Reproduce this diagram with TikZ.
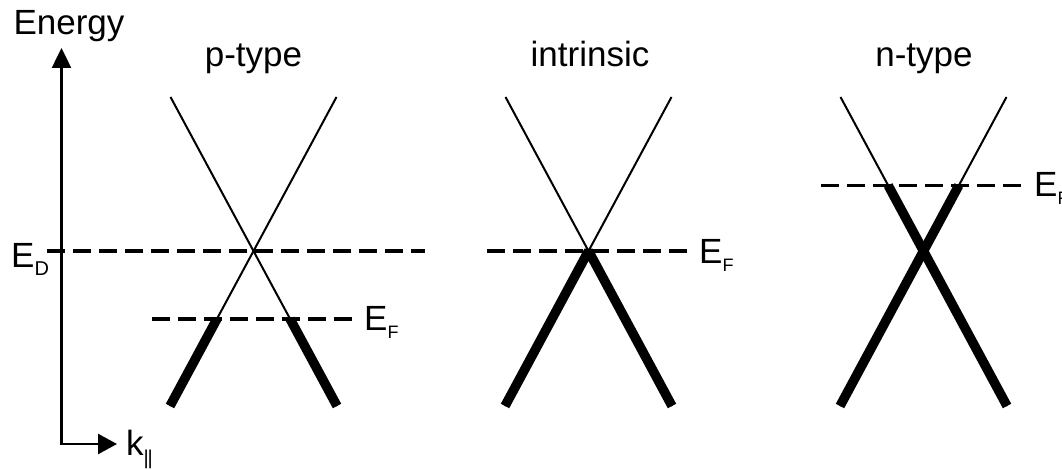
\documentclass[tikz,border=0pt]{standalone}
\usepackage{fontspec}
\setmainfont{Liberation Sans}
\usetikzlibrary{arrows.meta}
\newcommand{\bigtext}{\fontsize{35}{40}\selectfont}
\newcommand{\lowsub}[2][18]{\raisebox{-8pt}{\fontsize{#1}{#1}\selectfont #2}}
\begin{document}
\begin{tikzpicture}[x=1pt,y=-1pt,
  lbl/.style={inner sep=0pt, font=\bigtext},
  thinband/.style={line width=2pt},
  thickband/.style={line width=9.5pt, line join=bevel},
  level/.style={line width=3.2pt, dash pattern=on 18pt off 8pt},
  axisline/.style={line width=2.5pt, line join=miter,
     {Triangle[length=20pt,width=19pt]}-{Triangle[length=19pt,width=20pt]}}]
\useasboundingbox (0,0) rectangle (1062,470);
% axes
\coordinate (vtip) at (61.5,48);
\coordinate (corner) at (61.5,444);
\coordinate (htip) at (117,444);
\draw[axisline] (vtip) -- (corner) -- (htip);
\node[lbl, anchor=base] (energy) at (69,35) {Energy};
\node[lbl, anchor=base west] (kpar) at (126,455) {k\raisebox{-9pt}{\fontsize{20}{20}\selectfont |\kern-1.2pt|}};
% Dirac level
\coordinate (edL) at (47,251);
\coordinate (edR) at (425,251);
\draw[level] (edL) -- (edR);
\node[lbl, anchor=base west] (ed) at (11,268) {E\lowsub[20]{D}};
% titles
\node[lbl, anchor=base] (ptitle) at (253.5,67) {p-type};
\node[lbl, anchor=base] (ititle) at (590,67) {intrinsic};
\node[lbl, anchor=base] (ntitle) at (924,67) {n-type};
% ---------- p-type ----------
\coordinate (pTL) at (170.5,97);
\coordinate (pTR) at (336.5,97);
\coordinate (pBL) at (170,406);
\coordinate (pBR) at (337,406);
\coordinate (pFL) at (216.9,319);
\coordinate (pFR) at (290.1,319);
\draw[thinband] (pTL) -- (pBR);
\draw[thinband] (pTR) -- (pBL);
\draw[thickband] (pFL) -- (pBL);
\draw[thickband] (pFR) -- (pBR);
\coordinate (pEL) at (152,319);
\coordinate (pER) at (353,319);
\draw[level] (pEL) -- (pER);
\node[lbl, anchor=base west] (pef) at (364,330) {E\lowsub{F}};
% ---------- intrinsic ----------
\coordinate (iTL) at (505.5,97);
\coordinate (iTR) at (671.5,97);
\coordinate (iBL) at (505,406);
\coordinate (iBR) at (672,406);
\coordinate (iC) at (588.5,251);
\draw[thinband] (iTL) -- (iBR);
\draw[thinband] (iTR) -- (iBL);
\draw[thickband] (iBL) -- (iC) -- (iBR);
\coordinate (iEL) at (487,251);
\coordinate (iER) at (692,251);
\draw[level] (iEL) -- (iER);
\node[lbl, anchor=base west] (ief) at (699,263) {E\lowsub{F}};
% ---------- n-type ----------
\coordinate (nTL) at (840.5,97);
\coordinate (nTR) at (1006.5,97);
\coordinate (nBL) at (840,406);
\coordinate (nBR) at (1007,406);
\coordinate (nFL) at (888.2,185.5);
\coordinate (nFR) at (958.8,185.5);
\draw[thinband] (nTL) -- (nBR);
\draw[thinband] (nTR) -- (nBL);
\draw[thickband] (nFL) -- (nBR);
\draw[thickband] (nFR) -- (nBL);
\coordinate (nEL) at (821,185.5);
\coordinate (nER) at (1021,185.5);
\draw[level] (nEL) -- (nER);
\node[lbl, anchor=base west] (nef) at (1034,197) {E\lowsub{F}};
\end{tikzpicture}
\end{document}
